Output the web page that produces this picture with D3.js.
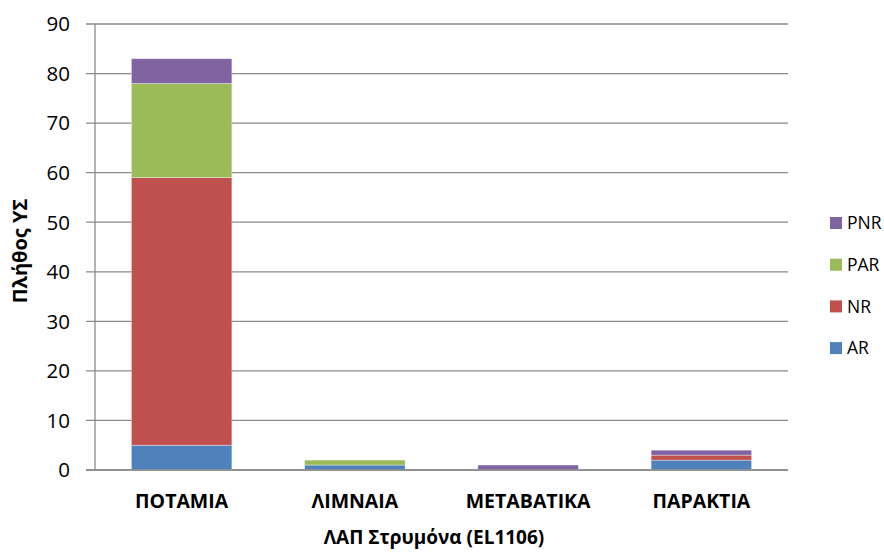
<!DOCTYPE html>
<html>
<head>
<meta charset="utf-8">
<script src="https://cdn.jsdelivr.net/npm/d3@7"></script>
<style>
  body { margin: 0; background: #fff; }
  text { font-family: "Open Sans", "DejaVu Sans", sans-serif; fill: #000; }
</style>
</head>
<body>
<div id="chart"></div>
<script>
let width = 884;
let height = 557;
let margin = ({top: 24, right: 96, bottom: 87, left: 95});

// Data
let categories = ["ΠΟΤΑΜΙΑ", "ΛΙΜΝΑΙΑ", "ΜΕΤΑΒΑΤΙΚΑ", "ΠΑΡΑΚΤΙΑ"];
let seriesNames = ["AR", "NR", "PAR", "PNR"];
let AR = [5, 1, 0, 2];
let NR = [54, 0, 0, 1];
let PAR = [19, 1, 0, 0];
let PNR = [5, 0, 1, 1];
let yTicks = [0, 10, 20, 30, 40, 50, 60, 70, 80, 90];

let colors = d3.scaleOrdinal()
    .domain(seriesNames)
    .range(["#4F81BD", "#C0504D", "#9BBB59", "#8064A2"]);

let rows = categories.map((c, i) => ({cat: c, AR: AR[i], NR: NR[i], PAR: PAR[i], PNR: PNR[i]}));
let stacked = d3.stack().keys(seriesNames)(rows);

let svg = d3.select("#chart")
    .append("svg")
    .attr("width", width)
    .attr("height", height);

let xScale = d3.scaleBand()
    .domain(categories)
    .range([margin.left, width - margin.right])
    .paddingInner(0.42)
    .paddingOuter(0.21);

let yScale = d3.scaleLinear()
    .domain([0, 90])
    .range([height - margin.bottom, margin.top]);

// gridlines
svg.append("g")
    .selectAll("line")
    .data(yTicks)
    .join("line")
    .attr("x1", margin.left - 9)
    .attr("x2", width - margin.right)
    .attr("y1", d => yScale(d))
    .attr("y2", d => yScale(d))
    .attr("stroke", "#8a8a8a")
    .attr("stroke-width", 1.3);

// y axis line
svg.append("line")
    .attr("x1", margin.left).attr("x2", margin.left)
    .attr("y1", yScale(0)).attr("y2", yScale(90))
    .attr("stroke", "#8a8a8a")
    .attr("stroke-width", 1.3);

// y tick labels
svg.append("g")
    .selectAll("text")
    .data(yTicks)
    .join("text")
    .attr("x", margin.left - 25)
    .attr("y", d => yScale(d))
    .attr("dy", "0.36em")
    .attr("text-anchor", "end")
    .style("font-size", "20.5px")
    .text(d => d);

// bars
svg.append("g")
    .selectAll("g")
    .data(stacked)
    .join("g")
    .attr("fill", d => colors(d.key))
    .selectAll("rect")
    .data(d => d.filter(s => s[1] - s[0] > 0))
    .join("rect")
    .attr("x", d => xScale(d.data.cat))
    .attr("width", xScale.bandwidth())
    .attr("y", d => yScale(d[1]))
    .attr("height", d => yScale(d[0]) - yScale(d[1]))
    .attr("stroke", "rgba(255,255,255,0.45)")
    .attr("stroke-width", 0.8);

// redraw baseline on top
svg.append("line")
    .attr("x1", margin.left - 9).attr("x2", width - margin.right)
    .attr("y1", yScale(0)).attr("y2", yScale(0))
    .attr("stroke", "#8a8a8a")
    .attr("stroke-width", 1.3);

// category labels
svg.append("g")
    .selectAll("text")
    .data(categories)
    .join("text")
    .attr("x", d => xScale(d) + xScale.bandwidth() / 2)
    .attr("y", 508)
    .attr("text-anchor", "middle")
    .style("font-size", "19.5px")
    .style("font-weight", "bold")
    .text(d => d);

// axis titles
svg.append("text")
    .attr("x", 434)
    .attr("y", 544)
    .attr("text-anchor", "middle")
    .style("font-size", "19px")
    .style("font-weight", "bold")
    .text("ΛΑΠ Στρυμόνα (EL1106)");

svg.append("text")
    .attr("transform", "translate(27,251) rotate(-90)")
    .attr("text-anchor", "middle")
    .style("font-size", "20px")
    .style("font-weight", "bold")
    .text("Πλήθος ΥΣ");

// legend (top to bottom: PNR, PAR, NR, AR)
let legendItems = seriesNames.slice().reverse();
let legend = svg.append("g")
    .selectAll("g")
    .data(legendItems)
    .join("g")
    .attr("transform", (d, i) => "translate(830," + (223 + i * 41.7) + ")");

legend.append("rect")
    .attr("x", 0)
    .attr("y", -6)
    .attr("width", 12)
    .attr("height", 12)
    .attr("fill", d => colors(d));

legend.append("text")
    .attr("x", 17)
    .attr("y", 0)
    .attr("dy", "0.36em")
    .style("font-size", "17.5px")
    .text(d => d);
</script>
</body>
</html>
